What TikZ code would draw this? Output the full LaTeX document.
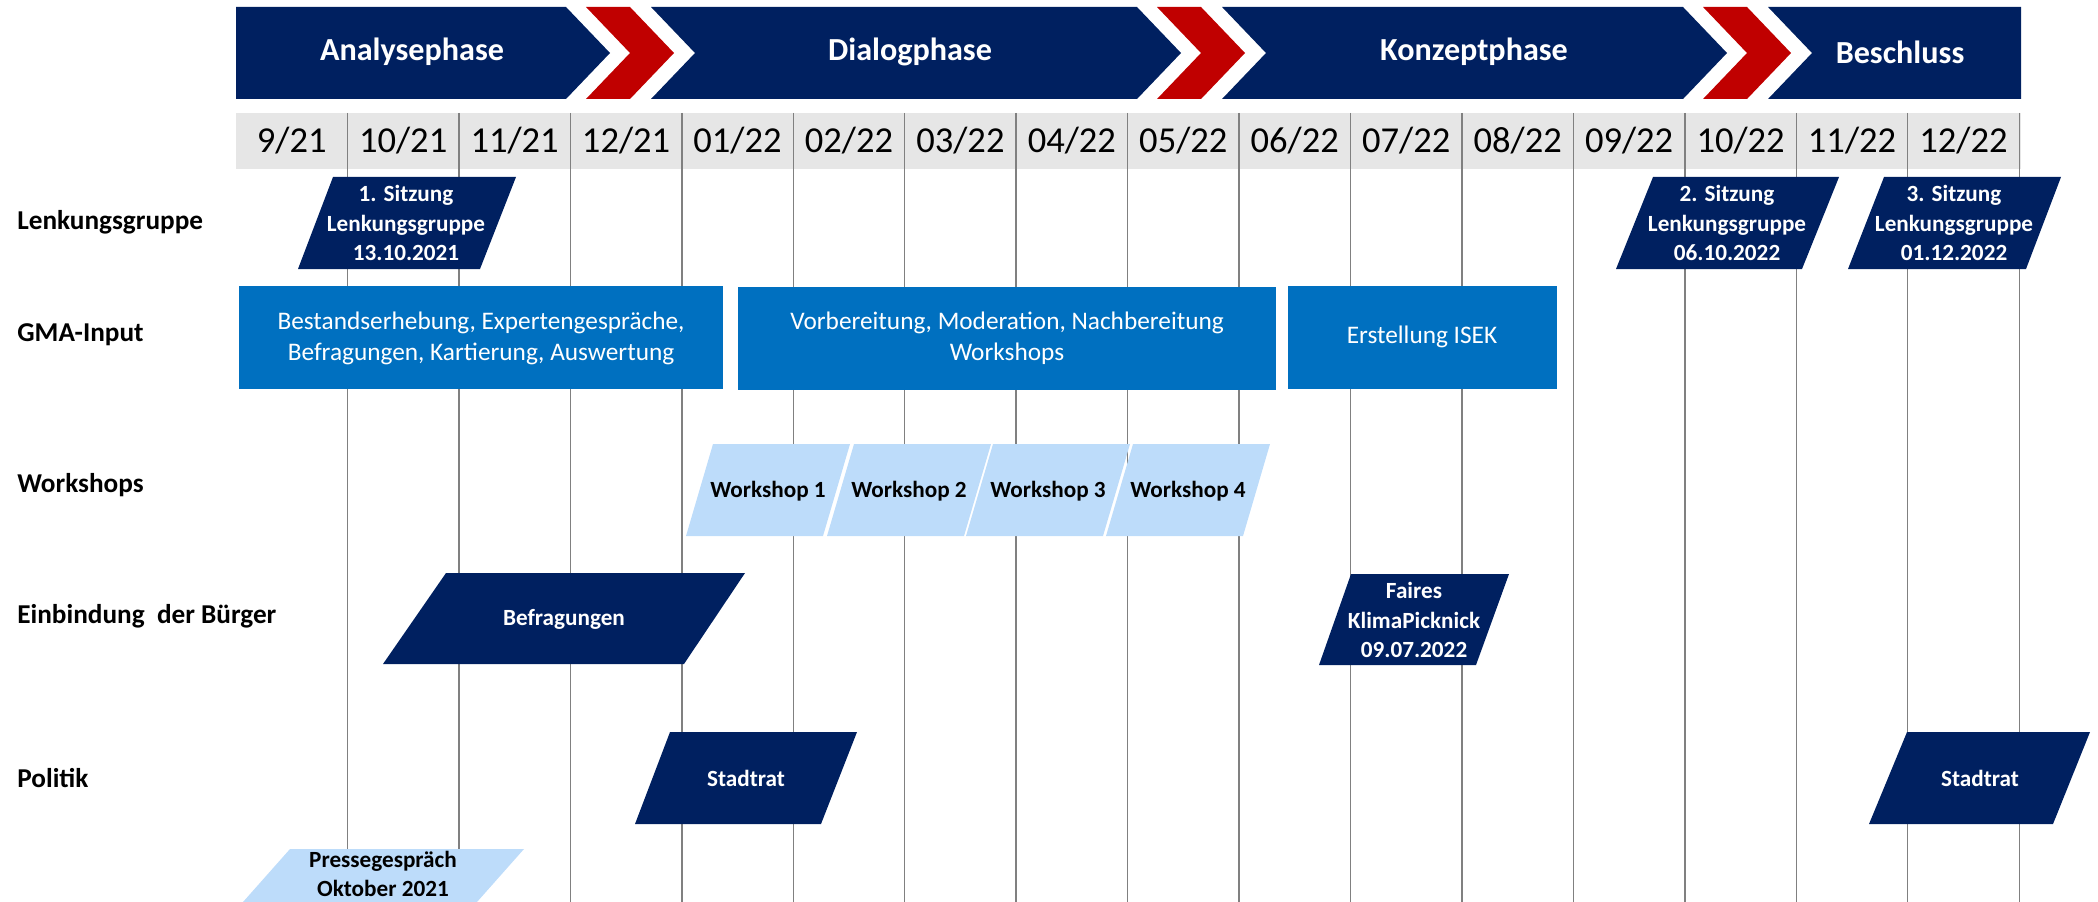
\documentclass[tikz,border=0pt]{standalone}
\usepackage{fontspec}
\setmainfont{Carlito}
\usepackage{tikz}
\definecolor{navy}{HTML}{002060}
\definecolor{chevred}{HTML}{C00000}
\definecolor{gmablue}{HTML}{0070C0}
\definecolor{lightblue}{HTML}{BDDCFA}
\definecolor{bandgray}{HTML}{E6E6E6}
\definecolor{gridgray}{HTML}{808080}
\tikzset{
  phase/.style={fill=navy},
  chev/.style={fill=chevred},
  phaselbl/.style={font=\bfseries\fontsize{18.3}{22}\selectfont, text=white, inner sep=0pt},
  datelbl/.style={font=\fontsize{20.8}{25}\selectfont, inner sep=0pt},
  rowlbl/.style={font=\bfseries\fontsize{15.5}{19}\selectfont, anchor=west, inner sep=0pt},
  grid/.style={draw=gridgray, line width=0.8pt},
  gmabox/.style={fill=gmablue},
  gmalbl/.style={font=\fontsize{14.4}{17.6}\selectfont, text=white, align=center, inner sep=0pt},
  darkbox/.style={fill=navy},
  lightbox/.style={fill=lightblue},
  boxlbl/.style={font=\bfseries\fontsize{13.2}{16.6}\selectfont, align=center, inner sep=0pt},
}

\begin{document}
\begin{tikzpicture}[x=0.02cm, y=-0.02cm]
  \useasboundingbox (0,0) rectangle (2098,902);

  % phase header
  \fill[phase] (236,7) -- (566,7) -- (610,53) -- (566,99) -- (236,99) -- cycle;
  \fill[phase] (651,7) -- (1137,7) -- (1181,53) -- (1137,99) -- (651,99) -- (695,53) -- cycle;
  \fill[phase] (1222,7) -- (1683,7) -- (1727,53) -- (1683,99) -- (1222,99) -- (1266,53) -- cycle;
  \fill[phase] (1768,7) -- (2021,7) -- (2021,99) -- (1768,99) -- (1812,53) -- cycle;
  \foreach \xb in {566,1137,1683}
    \fill[chev] ({\xb+20},7) -- ({\xb+64},7) -- ({\xb+108},53) -- ({\xb+64},99)
      -- ({\xb+20},99) -- ({\xb+64},53) -- cycle;
  \node[phaselbl] (analyse) at (412,52) {Analysephase};
  \node[phaselbl] (dialog) at (910,52) {Dialogphase};
  \node[phaselbl] (konzept) at (1474,52) {Konzeptphase};
  \node[phaselbl] (beschluss) at (1900,52) {Beschluss};

  % months
  \fill[bandgray] (236,113) rectangle (2021,169);
  \foreach \i in {1,...,16}
    \draw[grid] ({236+111.45*\i},113) -- ({236+111.45*\i},902);
  \foreach \mo/\yr [count=\i from 0] in {9/21,10/21,11/21,12/21,01/22,02/22,03/22,04/22,
      05/22,06/22,07/22,08/22,09/22,10/22,11/22,12/22}
    \node[datelbl] (date\i) at ({236+111.45*(\i+0.5)},141) {\mo/\yr};

  % rows
  \node[rowlbl] (lenk) at (17,222) {Lenkungsgruppe};
  \node[rowlbl] (gma) at (17,335) {GMA-Input};
  \node[rowlbl] (works) at (17,485) {Workshops};
  \node[rowlbl] (buerger) at (17,616) {Einbindung\ \ der Bürger};
  \node[rowlbl] (politik) at (17,778) {Politik};

  % Lenkungsgruppe
  \fill[darkbox] (333,177) -- (516,177) -- (480,269) -- (298,269) -- cycle;
  \fill[darkbox] (1653,177) -- (1839,177) -- (1802,269) -- (1616,269) -- cycle;
  \fill[darkbox] (1884,177) -- (2061,177) -- (2026,269) -- (1848,269) -- cycle;
  \node[boxlbl, text=white] (sitz1) at (406,223) {1. Sitzung\\Lenkungsgruppe\\13.10.2021};
  \node[boxlbl, text=white] (sitz2) at (1727,223) {2. Sitzung\\Lenkungsgruppe\\06.10.2022};
  \node[boxlbl, text=white] (sitz3) at (1954,223) {3. Sitzung\\Lenkungsgruppe\\01.12.2022};

  % GMA-Input
  \fill[gmabox] (239,286) rectangle (723,389);
  \fill[gmabox] (738,287) rectangle (1276,390);
  \fill[gmabox] (1288,286) rectangle (1557,389);
  \node[gmalbl] (bestand) at (481,338) {Bestandserhebung, Expertengespräche,\\Befragungen, Kartierung, Auswertung};
  \node[gmalbl] (vorb) at (1007,338) {Vorbereitung, Moderation, Nachbereitung\\Workshops};
  \node[gmalbl] (isek) at (1422,337) {Erstellung ISEK};

  % Workshops
  \foreach \n/\xt in {1/713,2/854,3/993,4/1133} {
    \fill[lightbox] (\xt,444) -- ({\xt+137},444) -- ({\xt+110},536) -- ({\xt-27},536) -- cycle;
    \node[boxlbl] (ws\n) at ({\xt+55},491) {Workshop \n};
  }

  % Einbindung der Buerger
  \fill[darkbox] (446,573) -- (745,573) -- (684,664) -- (383,664) -- cycle;
  \node[boxlbl, text=white] (befrag) at (564,619) {Befragungen};
  \fill[darkbox] (1351,574) -- (1509,574) -- (1476,665) -- (1319,665) -- cycle;
  \node[boxlbl, text=white] (picknick) at (1414,620) {Faires\\KlimaPicknick\\09.07.2022};

  % Politik
  \fill[darkbox] (670,732) -- (857,732) -- (821,824) -- (635,824) -- cycle;
  \node[boxlbl, text=white] (rat1) at (746,778) {Stadtrat};
  \fill[darkbox] (1907,732) -- (2090,732) -- (2053,824) -- (1869,824) -- cycle;
  \node[boxlbl, text=white] (rat2) at (1980,778) {Stadtrat};
  \fill[lightbox] (290,849) -- (524,849) -- (477,902) -- (243,902) -- cycle;
  \node[boxlbl] (presse) at (383,874) {Pressegespräch\\Oktober 2021};
\end{tikzpicture}
\end{document}
